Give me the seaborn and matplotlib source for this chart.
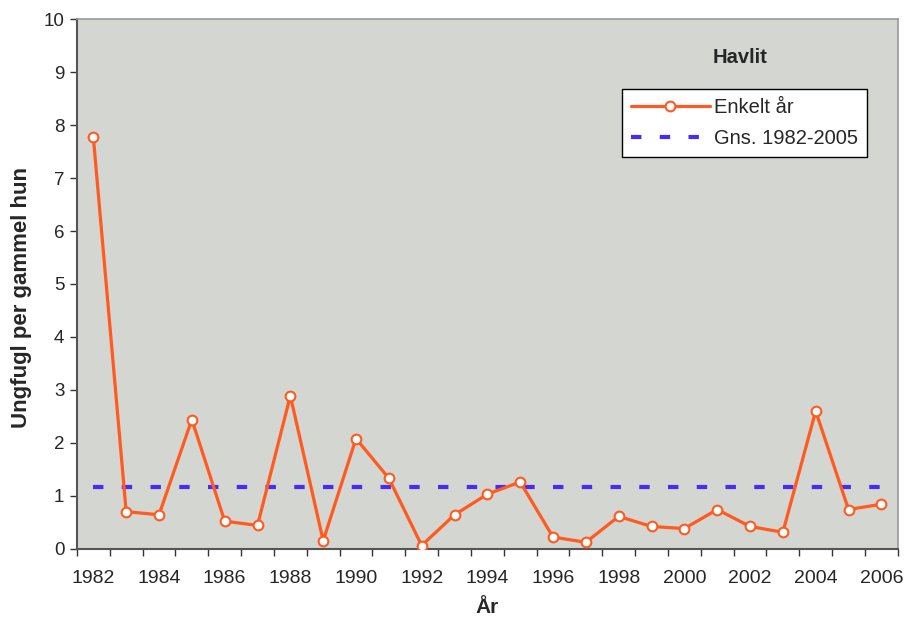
"""
Havlit: ungfugl per gammel hun, 1982-2006
"""

import numpy as np
import pandas as pd
import matplotlib.pyplot as plt
import seaborn as sns
from matplotlib.ticker import FixedLocator, NullFormatter

# Data
years = list(range(1982, 2007))
young_per_female = [7.77, 0.70, 0.64, 2.44, 0.52, 0.44, 2.89, 0.15, 2.08, 1.33,
                    0.06, 0.64, 1.03, 1.26, 0.22, 0.12, 0.61, 0.42, 0.38, 0.74,
                    0.42, 0.31, 2.60, 0.74, 0.84]
mean_1982_2005 = 1.17

line_color = '#FF5A1F'
mean_color = '#4A2BF5'
bg_color = '#D4D6D1'

sns.set_style('white')
plt.rcParams['font.family'] = ['Liberation Sans', 'DejaVu Sans']

df = pd.DataFrame({'pos': np.arange(len(years)), 'year': years,
                   'value': young_per_female})
df['mean'] = mean_1982_2005

fig, ax = plt.subplots(figsize=(9.05, 6.2), dpi=100)
fig.subplots_adjust(left=0.085, right=0.992, top=0.969, bottom=0.115)
ax.set_facecolor(bg_color)

sns.lineplot(data=df, x='pos', y='value', ax=ax, color=line_color,
             linewidth=2.3, marker='o', markersize=7, markerfacecolor='white',
             markeredgecolor=line_color, markeredgewidth=1.5,
             label='Enkelt år', zorder=3)
sns.lineplot(data=df, x='pos', y='mean', ax=ax, color=mean_color,
             linewidth=3, linestyle=(0, (2.5, 4.4)), label='Gns. 1982-2005',
             zorder=2)

# Category axis: tick marks between years, labels every second year
ax.set_xlim(-0.5, len(years) - 0.5)
ax.xaxis.set_major_locator(FixedLocator(df['pos'][::2]))
ax.set_xticklabels([str(y) for y in years[::2]])
ax.xaxis.set_minor_locator(FixedLocator(np.arange(-0.5, len(years), 1)))
ax.xaxis.set_minor_formatter(NullFormatter())
ax.tick_params(axis='x', which='major', length=0, pad=15, labelsize=14)
ax.tick_params(axis='x', which='minor', length=5, width=1, color='#333333',
               direction='out', bottom=True)

ax.set_ylim(0, 10)
ax.set_yticks(range(0, 11))
ax.tick_params(axis='y', length=5, width=1, color='#333333', direction='out',
               left=True, labelsize=13.5, pad=4)

for side in ['left', 'bottom']:
    ax.spines[side].set_color('#555555')
    ax.spines[side].set_linewidth(1.5)
for side in ['top', 'right']:
    ax.spines[side].set_color('#999999')
    ax.spines[side].set_linewidth(1.2)

ax.set_xlabel('År', fontsize=15, fontweight='bold', labelpad=8)
ax.set_ylabel('Ungfugl per gammel hun', fontsize=16, fontweight='bold')
ax.yaxis.set_label_coords(-0.055, 0.474)

ax.text(0.808, 0.928, 'Havlit', transform=ax.transAxes, ha='center',
        va='center', fontsize=14.5, fontweight='bold')

leg = ax.legend(loc='upper left', bbox_to_anchor=(0.664, 0.868),
                fontsize=14.5, frameon=True, fancybox=False, handlelength=3.9,
                borderpad=0.45, labelspacing=0.6, handletextpad=0.2,
                borderaxespad=0)
leg.get_frame().set_edgecolor('black')
leg.get_frame().set_linewidth(1)
leg.get_frame().set_facecolor('white')
leg.get_frame().set_alpha(1)

plt.savefig('out.png', dpi=100)
plt.close()
